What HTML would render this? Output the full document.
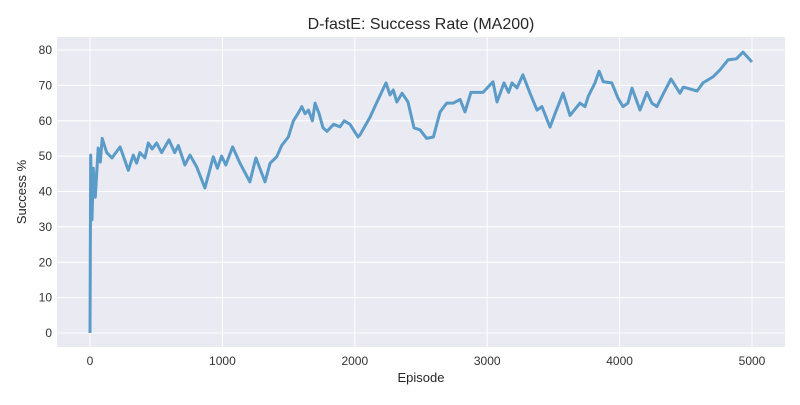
<!DOCTYPE html>
<html><head><meta charset="utf-8"><style>
body{margin:0;background:#fff;font-family:"Liberation Sans",sans-serif}
</style></head><body>
<svg id="chart" width="800" height="400" xmlns="http://www.w3.org/2000/svg">
<rect x="0" y="0" width="800" height="400" fill="#fff"/>
<rect x="57" y="37" width="728" height="310" fill="#eaeaf2"/>
<g id="grid"></g><g id="ticks"></g>
<path id="line" fill="none" stroke="#5b9bc8" stroke-width="3" stroke-linejoin="round"/>
<text x="421" y="29" text-anchor="middle" font-size="16" fill="#262626">D-fastE: Success Rate (MA200)</text>
<text x="421" y="382" text-anchor="middle" font-size="13" fill="#262626">Episode</text>
<text transform="translate(26,192) rotate(-90)" text-anchor="middle" font-size="13" fill="#262626">Success %</text>
</svg>
<script>
const episodes=[0,5,15,25,40,62,78,92,126,166,227,289,327,352,377,415,440,470,503,541,597,640,667,717,755,805,868,931,962,994,1026,1077,1133,1208,1253,1322,1360,1410,1448,1498,1536,1570,1600,1625,1650,1680,1700,1730,1760,1790,1840,1888,1920,1964,2024,2039,2115,2175,2236,2266,2291,2317,2357,2402,2447,2493,2543,2594,2644,2694,2744,2795,2832,2877,2968,3044,3074,3127,3162,3187,3225,3270,3323,3376,3413,3474,3512,3573,3625,3701,3739,3764,3814,3845,3877,3941,3988,4026,4063,4094,4154,4206,4244,4282,4332,4388,4456,4481,4585,4630,4705,4756,4819,4882,4932,5000];
const success=[0,50.3,32,46.6,38.4,52.3,48.3,55,51,49.5,52.6,46,50.3,48,51,49.5,53.7,52,53.7,51,54.6,51,53,47.5,50.3,47,41,49.8,46.6,50,47.5,52.6,48,42.7,49.5,42.7,48,49.8,53,55.4,60,62,64,62,63,60,65,62,58,57,59,58.3,60,59,55.4,56,61,65.9,70.7,67.3,68.7,65.3,67.8,65.3,58,57.4,55,55.4,62.5,65,65,66,62.5,68,68,71,65.3,70.7,68,70.7,69.3,73,67.8,63,64,58.2,62,67.8,61.5,65,64,67,70.7,74,71,70.7,66.4,64,65,69.2,63,68,65,64,67.8,71.8,67.8,69.5,68.4,70.7,72.4,74.3,77.2,77.5,79.4,76.6];
const xTicks=[0,1000,2000,3000,4000,5000];
const yTicks=[0,10,20,30,40,50,60,70,80];
const xs=v=>90+v*0.1324, ys=v=>333-v*3.5375;
const NS="http://www.w3.org/2000/svg";
const g=document.getElementById('grid'),t=document.getElementById('ticks');
function mk(p,tag,a){const e=document.createElementNS(NS,tag);for(const k in a)e.setAttribute(k,a[k]);p.appendChild(e);return e;}
xTicks.forEach(v=>{
 const l=mk(g,'line',{x1:xs(v),x2:xs(v),y1:37,y2:347,stroke:'#fff','stroke-width':1});
 
 
 const tx=mk(t,'text',{x:xs(v),y:365,'text-anchor':'middle','font-size':12,fill:'#333'});
 tx.textContent=v;
 
 
});
yTicks.forEach(v=>{
 const l=mk(g,'line',{x1:57,x2:785,y1:ys(v),y2:ys(v),stroke:'#fff','stroke-width':1});
 
 
 const tx=mk(t,'text',{x:52,y:ys(v)+4,'text-anchor':'end','font-size':12,fill:'#333'});
 tx.textContent=v;
 
 
});
document.getElementById('line').setAttribute('d',episodes.map((e,i)=>(i?'L':'M')+xs(e).toFixed(1)+','+ys(success[i]).toFixed(1)).join(''));
</script>
</body></html>
